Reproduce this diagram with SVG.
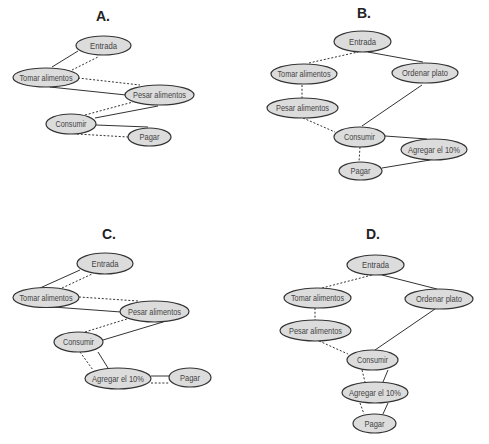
<svg xmlns="http://www.w3.org/2000/svg" width="489" height="444" viewBox="0 0 489 444">
<style>
.n ellipse{fill:#dcdcdc;stroke:#333;stroke-width:1.2}
.n text{font-family:"Liberation Sans",Arial,sans-serif;font-size:9px;fill:#444;text-anchor:middle;dominant-baseline:central}
.t{font-family:"Liberation Sans",Arial,sans-serif;font-size:14px;font-weight:bold;fill:#222;text-anchor:middle}
.s{stroke:#333;stroke-width:1;fill:none}
.d{stroke:#333;stroke-width:1;fill:none;stroke-dasharray:2,1.8}
</style>
<rect width="489" height="444" fill="#fff"/>
<text class="t" x="103" y="21">A.</text>
<text class="t" x="364" y="18">B.</text>
<text class="t" x="109" y="239">C.</text>
<text class="t" x="373" y="239">D.</text>
<g id="connectors">
<!-- A -->
<line class="s" x1="52" y1="67" x2="78" y2="51"/>
<line class="d" x1="72" y1="70" x2="98" y2="57"/>
<line class="d" x1="78" y1="78" x2="140" y2="85"/>
<line class="s" x1="50" y1="87" x2="126" y2="95"/>
<line class="d" x1="85" y1="115" x2="133" y2="102"/>
<line class="s" x1="95" y1="118" x2="158" y2="106"/>
<line class="s" x1="96" y1="125" x2="148" y2="127"/>
<line class="d" x1="77" y1="134" x2="128" y2="137"/>
<!-- B -->
<line class="d" x1="309" y1="63" x2="358" y2="52"/>
<line class="s" x1="368" y1="52" x2="423" y2="62"/>
<line class="d" x1="302" y1="85" x2="302" y2="98"/>
<line class="d" x1="303" y1="118" x2="335" y2="132"/>
<line class="s" x1="422" y1="85" x2="362" y2="126"/>
<line class="s" x1="385" y1="136" x2="427" y2="139"/>
<line class="d" x1="360" y1="147" x2="359" y2="162"/>
<line class="s" x1="382" y1="168" x2="430" y2="160"/>
<!-- C -->
<line class="s" x1="40" y1="288" x2="80" y2="270"/>
<line class="d" x1="62" y1="288" x2="92" y2="274"/>
<line class="d" x1="79" y1="297" x2="138" y2="301"/>
<line class="s" x1="53" y1="307" x2="121" y2="312"/>
<line class="d" x1="85" y1="332" x2="130" y2="318"/>
<line class="s" x1="103" y1="340" x2="163" y2="322"/>
<line class="d" x1="80" y1="352" x2="93" y2="370"/>
<line class="s" x1="98" y1="352" x2="108" y2="368"/>
<line class="s" x1="151" y1="376" x2="169" y2="376"/>
<line class="d" x1="151" y1="383" x2="170" y2="383"/>
<!-- D -->
<line class="d" x1="322" y1="288" x2="372" y2="275"/>
<line class="s" x1="382" y1="275" x2="437" y2="289"/>
<line class="d" x1="315" y1="308" x2="315" y2="320"/>
<line class="d" x1="319" y1="341" x2="348" y2="354"/>
<line class="s" x1="435" y1="309" x2="375" y2="350"/>
<line class="d" x1="362" y1="370" x2="365" y2="382"/>
<line class="s" x1="388" y1="370" x2="383" y2="382"/>
<line class="d" x1="360" y1="403" x2="364" y2="414"/>
<line class="s" x1="388" y1="403" x2="383" y2="414"/>
</g>
<!-- A nodes -->
<g id="a-entrada" class="n"><ellipse cx="103.5" cy="45.5" rx="27.5" ry="9.5"/><text x="103.5" y="45.5" textLength="27" lengthAdjust="spacingAndGlyphs">Entrada</text></g>
<g id="a-tomar" class="n"><ellipse cx="46" cy="77.5" rx="33" ry="9.5"/><text x="46" y="77.5" textLength="53" lengthAdjust="spacingAndGlyphs">Tomar alimentos</text></g>
<g id="a-pesar" class="n"><ellipse cx="159.5" cy="95" rx="34.5" ry="10"/><text x="159.5" y="95" textLength="53" lengthAdjust="spacingAndGlyphs">Pesar alimentos</text></g>
<g id="a-consumir" class="n"><ellipse cx="71" cy="124" rx="25" ry="10"/><text x="71" y="124" textLength="31" lengthAdjust="spacingAndGlyphs">Consumir</text></g>
<g id="a-pagar" class="n"><ellipse cx="149.5" cy="137" rx="21.5" ry="9"/><text x="149.5" y="137" textLength="20" lengthAdjust="spacingAndGlyphs">Pagar</text></g>
<!-- B nodes -->
<g id="b-entrada" class="n"><ellipse cx="362.5" cy="41.5" rx="28.5" ry="10.5"/><text x="362.5" y="41.5" textLength="27" lengthAdjust="spacingAndGlyphs">Entrada</text></g>
<g id="b-tomar" class="n"><ellipse cx="304" cy="74" rx="33" ry="10"/><text x="304" y="74" textLength="53" lengthAdjust="spacingAndGlyphs">Tomar alimentos</text></g>
<g id="b-ordenar" class="n"><ellipse cx="425" cy="73" rx="33" ry="10"/><text x="425" y="73" textLength="46" lengthAdjust="spacingAndGlyphs">Ordenar plato</text></g>
<g id="b-pesar" class="n"><ellipse cx="302.5" cy="108" rx="35.5" ry="10"/><text x="302.5" y="108" textLength="53" lengthAdjust="spacingAndGlyphs">Pesar alimentos</text></g>
<g id="b-consumir" class="n"><ellipse cx="359.5" cy="137" rx="25.5" ry="10"/><text x="359.5" y="137" textLength="31" lengthAdjust="spacingAndGlyphs">Consumir</text></g>
<g id="b-agregar" class="n"><ellipse cx="434" cy="149.5" rx="33" ry="10.5"/><text x="434" y="149.5" textLength="52" lengthAdjust="spacingAndGlyphs">Agregar el 10%</text></g>
<g id="b-pagar" class="n"><ellipse cx="360.5" cy="171" rx="21.5" ry="9"/><text x="360.5" y="171" textLength="20" lengthAdjust="spacingAndGlyphs">Pagar</text></g>
<!-- C nodes -->
<g id="c-entrada" class="n"><ellipse cx="105" cy="263.5" rx="28" ry="10.5"/><text x="105" y="263.5" textLength="27" lengthAdjust="spacingAndGlyphs">Entrada</text></g>
<g id="c-tomar" class="n"><ellipse cx="46" cy="297.5" rx="33" ry="10"/><text x="46" y="297.5" textLength="53" lengthAdjust="spacingAndGlyphs">Tomar alimentos</text></g>
<g id="c-pesar" class="n"><ellipse cx="154.5" cy="311.5" rx="34.5" ry="10.5"/><text x="154.5" y="311.5" textLength="53" lengthAdjust="spacingAndGlyphs">Pesar alimentos</text></g>
<g id="c-consumir" class="n"><ellipse cx="78.5" cy="342" rx="24.5" ry="10"/><text x="78.5" y="342" textLength="31" lengthAdjust="spacingAndGlyphs">Consumir</text></g>
<g id="c-agregar" class="n"><ellipse cx="118" cy="378.5" rx="33" ry="10.5"/><text x="118" y="378.5" textLength="52" lengthAdjust="spacingAndGlyphs">Agregar el 10%</text></g>
<g id="c-pagar" class="n"><ellipse cx="190" cy="377.5" rx="21" ry="9.5"/><text x="190" y="377.5" textLength="20" lengthAdjust="spacingAndGlyphs">Pagar</text></g>
<!-- D nodes -->
<g id="d-entrada" class="n"><ellipse cx="375.5" cy="265" rx="28.5" ry="10"/><text x="375.5" y="265" textLength="27" lengthAdjust="spacingAndGlyphs">Entrada</text></g>
<g id="d-tomar" class="n"><ellipse cx="317.5" cy="298" rx="33.5" ry="10"/><text x="317.5" y="298" textLength="53" lengthAdjust="spacingAndGlyphs">Tomar alimentos</text></g>
<g id="d-ordenar" class="n"><ellipse cx="439" cy="299" rx="34" ry="10"/><text x="439" y="299" textLength="46" lengthAdjust="spacingAndGlyphs">Ordenar plato</text></g>
<g id="d-pesar" class="n"><ellipse cx="315.5" cy="330.5" rx="35.5" ry="10.5"/><text x="315.5" y="330.5" textLength="53" lengthAdjust="spacingAndGlyphs">Pesar alimentos</text></g>
<g id="d-consumir" class="n"><ellipse cx="372.5" cy="360" rx="25.5" ry="10"/><text x="372.5" y="360" textLength="31" lengthAdjust="spacingAndGlyphs">Consumir</text></g>
<g id="d-agregar" class="n"><ellipse cx="375" cy="392.5" rx="33" ry="10.5"/><text x="375" y="392.5" textLength="52" lengthAdjust="spacingAndGlyphs">Agregar el 10%</text></g>
<g id="d-pagar" class="n"><ellipse cx="374.5" cy="423.5" rx="21.5" ry="9.5"/><text x="374.5" y="423.5" textLength="20" lengthAdjust="spacingAndGlyphs">Pagar</text></g>
</svg>
